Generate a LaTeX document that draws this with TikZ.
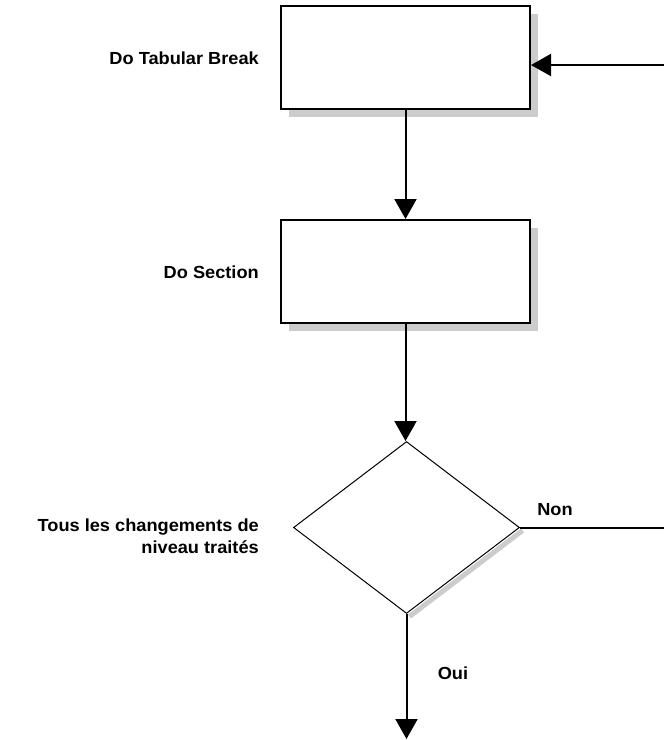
\documentclass[tikz,border=0pt]{standalone}
\usepackage{fontspec}
\setmainfont[FakeStretch=1.04,UprightFont=*-Bold]{Liberation Sans}
\usetikzlibrary{arrows.meta,shapes.geometric,calc}

\definecolor{shadowgray}{gray}{0.8}

\tikzset{
  procbox/.style={draw=black, line width=2pt, fill=white, minimum width=249pt,
    minimum height=103pt, inner sep=0pt},
  boxshadow/.style={fill=shadowgray, draw=none, minimum width=249pt,
    minimum height=103pt, inner sep=0pt},
  decision/.style={draw=black, line width=1pt, fill=white, shape=diamond,
    minimum width=226pt, minimum height=172pt, inner sep=0pt},
  flow/.style={line width=2pt, -{Triangle[length=20pt,width=22pt]}},
  plain/.style={line width=2pt},
  caption/.style={font=\fontsize{17.5}{22}\selectfont, inner sep=0pt},
}

\begin{document}
\begin{tikzpicture}[x=1pt,y=-1pt]
  \useasboundingbox (0,0) rectangle (664,740);

  % drop shadows behind the process boxes
  \node[boxshadow] (s1) at (413.5,65.5) {};
  \node[boxshadow] (s2) at (413.5,279.5) {};

  % process boxes
  \node[procbox] (b1) at (405.5,57.5) {};
  \node[procbox] (b2) at (405.5,271.5) {};

  % decision diamond with its shadow on the lower right edge
  \coordinate (dc) at (406.5,527.5);
  \draw[shadowgray, line width=5pt] ($(dc)+(116,3)$) -- ($(dc)+(3,89)$);
  \node[decision] (d) at (dc) {};

  % labels
  \node[caption, anchor=east] (l1) at (259,58) {Do Tabular Break};
  \node[caption, anchor=east] (l2) at (259,272) {Do Section};
  \node[caption, anchor=east, align=right] (l3) at (259,536)
    {Tous les changements de\\niveau traités};
  \node[caption] (lnon) at (555,510) {Non};
  \node[caption] (loui) at (453,673) {Oui};

  % connectors
  \coordinate (inr) at (664,65);
  \coordinate (outr) at (d.east -| 664,0);
  \coordinate (outb) at (d.south |- 0,739);

  \draw[flow] (inr) -- (inr -| b1.east);
  \draw[flow] (b1.south) -- (b2.north);
  \draw[flow] (b2.south) -- (b2.south |- d.north);
  \draw[plain] (d.east) -- (outr);
  \draw[flow] (d.south) -- (outb);
\end{tikzpicture}
\end{document}
